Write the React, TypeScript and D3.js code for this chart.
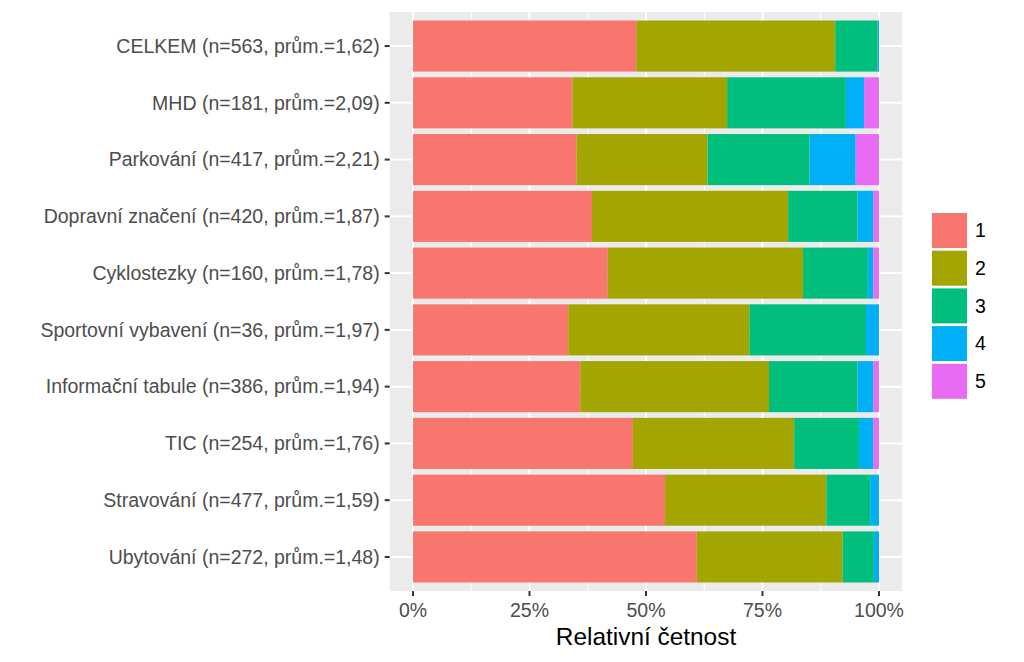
import React from "react";
import * as d3 from "d3";

const categories = [
  "CELKEM (n=563, prům.=1,62)",
  "MHD (n=181, prům.=2,09)",
  "Parkování (n=417, prům.=2,21)",
  "Dopravní značení (n=420, prům.=1,87)",
  "Cyklostezky (n=160, prům.=1,78)",
  "Sportovní vybavení (n=36, prům.=1,97)",
  "Informační tabule (n=386, prům.=1,94)",
  "TIC (n=254, prům.=1,76)",
  "Stravování (n=477, prům.=1,59)",
  "Ubytování (n=272, prům.=1,48)",
];

const levels = ["1", "2", "3", "4", "5"];
const level1 = [47.9, 34.2, 35.1, 38.4, 41.8, 33.3, 35.9, 47.2, 54.1, 60.9];
const level2 = [42.7, 33.2, 28.1, 42.1, 41.9, 38.9, 40.5, 34.6, 34.6, 31.3];
const level3 = [9.1, 25.5, 21.9, 14.9, 13.9, 25.0, 19.0, 13.9, 9.4, 6.7];
const level4 = [0.3, 3.9, 9.9, 3.4, 1.2, 2.8, 3.4, 3.1, 1.9, 1.1];
const level5 = [0.0, 3.2, 5.0, 1.2, 1.2, 0.0, 1.2, 1.2, 0.0, 0.0];

const xTicks = [0, 25, 50, 75, 100];
const xMinor = [12.5, 37.5, 62.5, 87.5];
const colors = ["#F8766D", "#A3A500", "#00BF7D", "#00B0F6", "#E76BF3"];

export default function App() {
  const W = 1024, H = 662;
  const x = d3.scaleLinear().domain([0, 100]).range([413, 879]);
  const panelTop = 12, panelBottom = 591;
  const y = d3.scalePoint<string>().domain(categories).range([panelTop, panelBottom]).padding(0.6);
  const step = y.step();
  const barH = step * 0.9;
  const pL = x(-5), pR = x(105);

  const rows = categories.map((c, i) => ({
    cat: c,
    "1": level1[i], "2": level2[i], "3": level3[i], "4": level4[i], "5": level5[i],
  }));
  const series = d3.stack<any>().keys(levels)(rows);
  const font = "'Liberation Sans', Arial, sans-serif";
  const fs = 19.5;

  const keyX = 932, keyY0 = 213, keySize = 35, keyStep = 37.7;

  return (
    <svg width={W} height={H} style={{ position: "absolute", left: 0, top: 0 }} fontFamily={font}>
      <rect x={0} y={0} width={W} height={H} fill="#fff" />
      <rect x={pL} y={panelTop} width={pR - pL} height={panelBottom - panelTop} fill="#EBEBEB" />
      {xMinor.map((t) => (
        <line key={"mn" + t} x1={x(t)} x2={x(t)} y1={panelTop} y2={panelBottom} stroke="#fff" strokeWidth={1} />
      ))}
      {xTicks.map((t) => (
        <line key={"mj" + t} x1={x(t)} x2={x(t)} y1={panelTop} y2={panelBottom} stroke="#fff" strokeWidth={2} />
      ))}
      {categories.map((c) => (
        <line key={"hg" + c} x1={pL} x2={pR} y1={y(c)} y2={y(c)} stroke="#fff" strokeWidth={2} />
      ))}
      {series.map((s, si) => (
        <g key={"s" + si} fill={colors[si]}>
          {s.map((d, di) => (
            <rect key={di} x={x(d[0])} width={Math.max(0, x(d[1]) - x(d[0]))}
              y={(y(categories[di]) as number) - barH / 2} height={barH} />
          ))}
        </g>
      ))}
      {categories.map((c) => (
        <g key={"yl" + c}>
          <line x1={pL - 5} x2={pL} y1={y(c)} y2={y(c)} stroke="#333" strokeWidth={2} />
          <text x={pL - 10} y={y(c)} dy="0.35em" textAnchor="end" fontSize={fs} fill="#4D4D4D">{c}</text>
        </g>
      ))}
      {xTicks.map((t) => (
        <g key={"xl" + t}>
          <line x1={x(t)} x2={x(t)} y1={panelBottom} y2={panelBottom + 5} stroke="#333" strokeWidth={2} />
          <text x={x(t)} y={617} textAnchor="middle" fontSize={fs} fill="#4D4D4D">{t + "%"}</text>
        </g>
      ))}
      <text x={(pL + pR) / 2} y={645} textAnchor="middle" fontSize={24.4} fill="#000">Relativní četnost</text>
      {levels.map((l, i) => (
        <g key={"lg" + l}>
          <rect x={keyX} y={keyY0 + i * keyStep} width={keySize} height={keySize} fill={colors[i]} />
          <text x={975} y={keyY0 + i * keyStep + keySize / 2} dy="0.35em" fontSize={fs} fill="#000">{l}</text>
        </g>
      ))}
    </svg>
  );
}
